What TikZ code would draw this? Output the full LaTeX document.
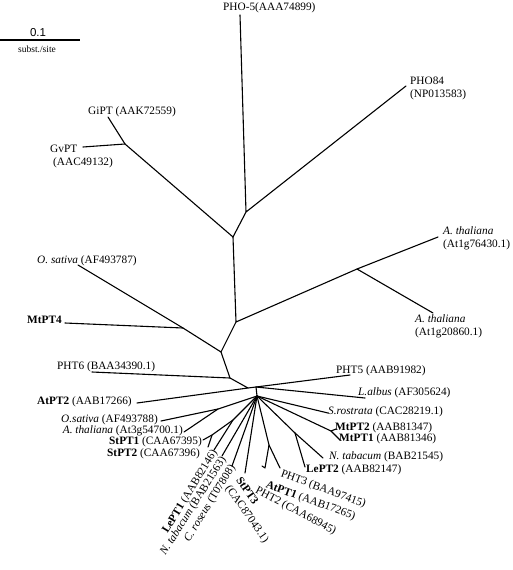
\documentclass[tikz,border=0pt]{standalone}
\usepackage{fontspec}
\setmainfont{Liberation Serif}
\setsansfont{Liberation Sans}
\begin{document}
\begin{tikzpicture}[x=1pt,y=-1pt,
  br/.style={line width=1.1pt, line cap=round, line join=round},
  lab/.style={inner sep=0pt, font=\fontsize{11.3}{13}\selectfont, align=left},
  labw/.style={lab, anchor=west},
  labe/.style={lab, anchor=east}]
\useasboundingbox (0,0) rectangle (512,570);
% scale bar
\coordinate (sbL) at (0,40);
\coordinate (sbR) at (80,40);
\draw[br, line cap=butt] (sbL) -- (sbR);
\node[inner sep=0pt, font=\sffamily\fontsize{11.5}{13}\selectfont] (sbn) at (38,33) {0.1};
\node[inner sep=0pt, font=\fontsize{9.5}{11}\selectfont] (sbt) at (37,49) {subst./site};
% coordinates
\coordinate (pho5) at (240,15);
\coordinate (A) at (246,212);
\coordinate (pho84) at (406,86);
\coordinate (B) at (233,237);
\coordinate (C) at (125,144);
\coordinate (gipt) at (108,117);
\coordinate (gvpt) at (83,147);
\coordinate (D) at (236,322);
\coordinate (E) at (357,269);
\coordinate (at76) at (438,237);
\coordinate (at20) at (433,313);
\coordinate (F) at (221,352);
\coordinate (G) at (183,328);
\coordinate (osat1) at (78,265);
\coordinate (mtpt4) at (65,323);
\coordinate (H) at (230,378);
\coordinate (pht6) at (92,372);
\coordinate (J) at (248,388);
\coordinate (atpt2) at (137,403);
\coordinate (pht5) at (350,375);
\coordinate (K) at (256,387);
\coordinate (lalb) at (365,398);
\coordinate (L) at (257,396);
\coordinate (M) at (218,409);
\coordinate (osat2) at (161,421);
\coordinate (at54) at (184,432);
\coordinate (N) at (233,420);
\coordinate (U) at (212,435);
\coordinate (stpt1) at (203,440);
\coordinate (stpt2) at (208,447);
\coordinate (lept1) at (214,450);
\coordinate (ntab2) at (222,456);
\coordinate (cros) at (232,466);
\coordinate (stpt3) at (245,473);
\coordinate (P) at (269,445);
\coordinate (pht3) at (280,468);
\coordinate (X) at (265,468);
\coordinate (xt) at (262,466);
\coordinate (R) at (295,433);
\coordinate (ntab1) at (323,458);
\coordinate (lept2) at (305,467);
\coordinate (S) at (331,431);
\coordinate (mtpt2) at (336,429);
\coordinate (mtpt1) at (340,440);
\coordinate (srost) at (328,413);
% branches
\draw[br] (pho5) -- (A) -- (pho84);
\draw[br] (A) -- (B) -- (C) -- (gipt);
\draw[br] (C) -- (gvpt);
\draw[br] (B) -- (D) -- (E) -- (at76);
\draw[br] (E) -- (at20);
\draw[br] (D) -- (F) -- (G) -- (osat1);
\draw[br] (G) -- (mtpt4);
\draw[br] (F) -- (H) -- (pht6);
\draw[br] (H) -- (J) -- (atpt2);
\draw[br] (J) -- (K) -- (pht5);
\draw[br] (K) -- (lalb);
\draw[br] (K) -- (L);
\draw[br] (L) -- (M) -- (osat2);
\draw[br] (M) -- (at54);
\draw[br] (L) -- (N) -- (U) -- (stpt1);
\draw[br] (U) -- (stpt2);
\draw[br] (N) -- (lept1);
\draw[br] (L) -- (ntab2);
\draw[br] (L) -- (cros);
\draw[br] (L) -- (stpt3);
\draw[br] (L) -- (P) -- (pht3);
\draw[br] (P) -- (X) -- (xt);
\draw[br] (L) -- (R) -- (ntab1);
\draw[br] (R) -- (lept2);
\draw[br] (L) -- (S) -- (mtpt2);
\draw[br] (S) -- (mtpt1);
\draw[br] (L) -- (srost);
% labels
\node[labw] (lpho5) at (223,8) {PHO-5(AAA74899)};
\node[labw] (lpho84) at (410,88) {PHO84\\(NP013583)};
\node[labw] (lgipt) at (88,112) {GiPT (AAK72559)};
\node[labw] (lgvpt) at (50,156) {GvPT\\\hspace{3pt}(AAC49132)};
\node[labw] (lat76) at (443,238) {\textit{A. thaliana}\\(At1g76430.1)};
\node[labw] (lat20) at (415,326) {\textit{A. thaliana}\\(At1g20860.1)};
\node[labw] (losat1) at (37,261) {\textit{O. sativa} (AF493787)};
\node[labw] (lmtpt4) at (27,320) {\textbf{MtPT4}};
\node[labw] (lpht6) at (57,367) {PHT6 (BAA34390.1)};
\node[labw] (latpt2) at (37,402) {\textbf{AtPT2} (AAB17266)};
\node[labe] (losat2) at (158,420) {\textit{O.sativa} (AF493788)};
\node[labe] (lat54) at (183,431) {\textit{A. thaliana} (At3g54700.1)};
\node[labe] (lstpt1) at (202,442) {\textbf{StPT1} (CAA67395)};
\node[labe] (lstpt2) at (200,454) {\textbf{StPT2} (CAA67396)};
\node[labw] (lpht5) at (336,371) {PHT5 (AAB91982)};
\node[labw] (llalb) at (358,393) {\textit{L.albus} (AF305624)};
\node[labw] (lsrost) at (328,412) {\textit{S.rostrata} (CAC28219.1)};
\node[labw] (lmtpt2) at (335,428) {\textbf{MtPT2} (AAB81347)};
\node[labw] (lmtpt1) at (339,439) {\textbf{MtPT1} (AAB81346)};
\node[labw] (lntab1) at (329,457) {\textit{N. tabacum} (BAB21545)};
\node[labw] (llept2) at (306,470) {\textbf{LePT2} (AAB82147)};
% rotated labels
\node[labe, rotate=58.6] (llept1) at (215,451) {\textbf{LePT1} (AAB82146)};
\node[labe, rotate=57.7] (lntab2) at (224,458) {\textit{N. tabacum} (BAB21563)};
\node[labe, rotate=58.5] (lcros) at (233,466) {\textit{C. roseus} (T07808)};
\node[lab, anchor=north west, rotate=-55] (lstpt3) at (242,476) {\textbf{StPT3}\\(CAC87043.1)};
\node[labw, rotate=-20] (lpht3) at (281,474) {PHT3 (BAA97415)};
\node[labw, rotate=-20] (latpt1) at (266,485) {\textbf{AtPT1} (AAB17265)};
\node[labw, rotate=-28] (lpht2) at (256,490) {PHT2 (CAA68945)};
\end{tikzpicture}
\end{document}
